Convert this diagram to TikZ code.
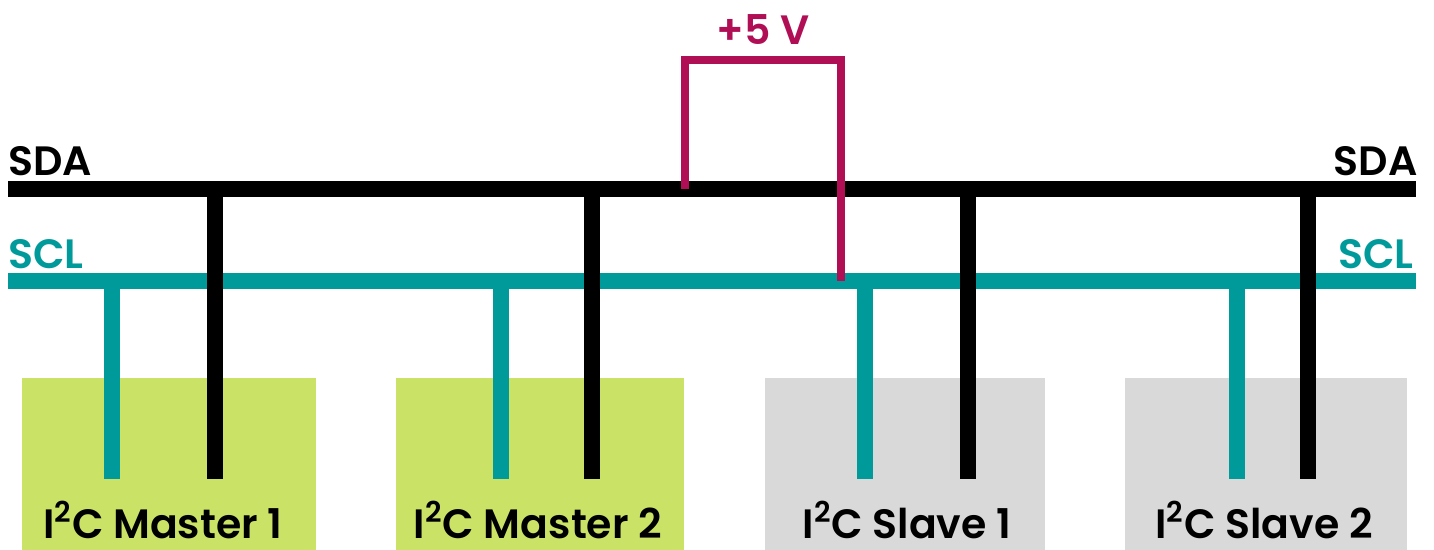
\documentclass[tikz,border=0pt]{standalone}
\usepackage{fontspec}
\setmainfont{Poppins}[BoldFont={Poppins SemiBold}]
\usepackage{tikz}
\definecolor{hexcolor0xcae266}{rgb}{0.792,0.886,0.400}
\definecolor{hexcolor0xd9d9d9}{rgb}{0.851,0.851,0.851}
\definecolor{hexcolor0x009a9b}{rgb}{0.000,0.604,0.608}
\definecolor{hexcolor0xb00f56}{rgb}{0.690,0.059,0.337}
\definecolor{myblack}{rgb}{0.000,0.000,0.000}
\tikzstyle{none}=[inner sep=0pt]
\tikzstyle{master}=[rectangle,fill=hexcolor0xcae266,minimum height=86pt,inner sep=0pt]
\tikzstyle{slave}=[rectangle,fill=hexcolor0xd9d9d9,minimum height=86pt,inner sep=0pt]
\tikzstyle{boxtext}=[inner sep=0pt,anchor=base,font=\fontsize{20.5}{24}\selectfont\bfseries]
\tikzstyle{sda}=[line width=8pt,draw=myblack]
\tikzstyle{scl}=[line width=8pt,draw=hexcolor0x009a9b]
\tikzstyle{pwr}=[line width=4pt,draw=hexcolor0xb00f56]

\begin{document}
\begin{tikzpicture}[x=0.5pt,y=-0.5pt]
\useasboundingbox (0,0) rectangle (1434,550);
	% devices
		\node [style=master,minimum width=147pt] (0) at (169,464) {};
		\node [style=master,minimum width=144pt] (1) at (540,464) {};
		\node [style=slave,minimum width=140pt] (2) at (905,464) {};
		\node [style=slave,minimum width=141pt] (3) at (1266,464) {};
		\node [style=boxtext] (4) at (163,538) {I\textsuperscript{2}C Master 1};
		\node [style=boxtext] (5) at (538,538) {I\textsuperscript{2}C Master 2};
		\node [style=boxtext] (6) at (907,538) {I\textsuperscript{2}C Slave 1};
		\node [style=boxtext] (7) at (1264,538) {I\textsuperscript{2}C Slave 2};
	% bus lines
		\coordinate (sda1) at (8,189);
		\coordinate (sda2) at (1416,189);
		\coordinate (scl1) at (8,281);
		\coordinate (scl2) at (1416,281);
		\draw [style=sda] (sda1) to (sda2);
		\draw [style=scl] (scl1) to (scl2);
		\node [style=boxtext,anchor=base west] (8) at (8,176) {SDA};
		\node [style=boxtext,anchor=base east] (9) at (1418,176) {SDA};
		\node [style=boxtext,anchor=base west,text=hexcolor0x009a9b] (10) at (8,269) {SCL};
		\node [style=boxtext,anchor=base east,text=hexcolor0x009a9b] (11) at (1414,269) {SCL};
	% taps
		\coordinate (c0) at (112,281);
		\coordinate (c1) at (501,281);
		\coordinate (c2) at (865,281);
		\coordinate (c3) at (1237,281);
		\coordinate (c4) at (112,479);
		\coordinate (c5) at (501,479);
		\coordinate (c6) at (865,479);
		\coordinate (c7) at (1237,479);
		\coordinate (d0) at (215,189);
		\coordinate (d1) at (592,189);
		\coordinate (d2) at (968,189);
		\coordinate (d3) at (1308,189);
		\coordinate (d4) at (215,479);
		\coordinate (d5) at (592,479);
		\coordinate (d6) at (968,479);
		\coordinate (d7) at (1308,479);
		\draw [style=scl] (c0) to (c4);
		\draw [style=scl] (c1) to (c5);
		\draw [style=scl] (c2) to (c6);
		\draw [style=scl] (c3) to (c7);
		\draw [style=sda] (d0) to (d4);
		\draw [style=sda] (d1) to (d5);
		\draw [style=sda] (d2) to (d6);
		\draw [style=sda] (d3) to (d7);
	% pull-up
		\coordinate (p0) at (685,189);
		\coordinate (p1) at (685,60);
		\coordinate (p2) at (841,60);
		\coordinate (p3) at (841,281);
		\draw [style=pwr,line join=miter] (p0) -- (p1) -- (p2) -- (p3);
		\node [style=boxtext,text=hexcolor0xb00f56] (12) at (763,45) {+5 V};
\end{tikzpicture}
\end{document}
